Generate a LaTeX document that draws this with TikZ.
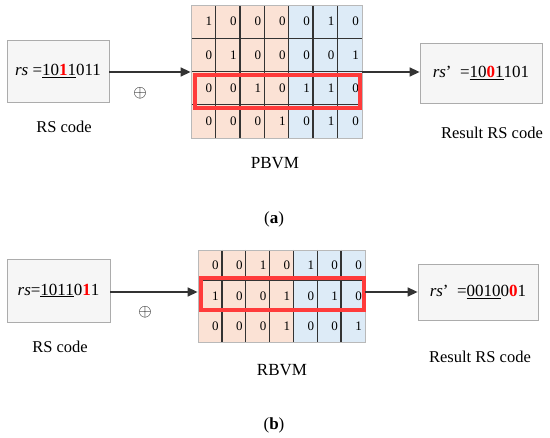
\documentclass[tikz,border=0pt]{standalone}
\usepackage{fontspec}
\setmainfont{Liberation Serif}
\usetikzlibrary{arrows.meta,shadows}
\definecolor{pinkc}{HTML}{FBE2D5}
\definecolor{bluec}{HTML}{DDEBF7}
\definecolor{redc}{HTML}{FF3B3B}
\definecolor{linec}{HTML}{333333}
\tikzset{
  codebox/.style={draw=gray!65, fill=gray!7, line width=0.8pt, inner sep=0pt,
    drop shadow={opacity=0.2, shadow xshift=1.2pt, shadow yshift=-1.2pt},
    font=\fontsize{17}{20}\selectfont},
  lbltxt/.style={font=\fontsize{16.5}{19}\selectfont, inner sep=0pt},
  captxt/.style={font=\fontsize{17}{20}\selectfont, inner sep=0pt},
  optxt/.style={font=\fontsize{17}{20}\selectfont, inner sep=0pt},
  celltxt/.style={font=\fontsize{13}{14}\selectfont, inner sep=0pt, anchor=east},
  matframe/.style={draw=gray!55, line width=0.8pt, inner sep=0pt,
    drop shadow={opacity=0.2, shadow xshift=1.2pt, shadow yshift=-1.2pt}},
  gridln/.style={draw=linec, line width=1.4pt},
  hlbox/.style={draw=redc, line width=3.4pt},
  conn/.style={draw=linec, line width=1.4pt, -{Triangle[length=10pt,width=9pt]}},
}
\newcommand{\rd}[1]{{\color{red}\bfseries #1}}
\begin{document}
\begin{tikzpicture}[x=1pt,y=-1pt]
\useasboundingbox (0,0) rectangle (550,438);

% ===================== (a) =====================
\node[codebox, minimum width=102pt, minimum height=62pt] (rsa) at (58,71)
  {\textit{rs} =\underline{10\rd{1}1}011};
\node[lbltxt] (rsal) at (64,127) {RS code};
\node[optxt] (opa) at (140,93) {$\oplus$};

% matrix a
\node[matframe, fill=white, minimum width=171pt, minimum height=133pt] (pm) at (276.5,71.5) {};
\fill[pinkc] (191,5) rectangle (288.7,138);
\fill[bluec] (288.7,5) rectangle (362,138);
\foreach \r in {1,2,3} \draw[gridln] (191,{5+\r*33.25}) -- (362,{5+\r*33.25});
\foreach \c in {1,...,6} \draw[gridln] ({191+\c*24.43},5) -- ({191+\c*24.43},138);
\draw[draw=gray!55, line width=0.8pt] (191,5) rectangle (362,138);
\foreach \row [count=\r] in {{1,0,0,0,0,1,0},{0,1,0,0,0,0,1},{0,0,1,0,1,1,0},{0,0,0,1,0,1,0}}{
  \foreach \v [count=\c] in \row {
    \node[celltxt] (a-\r-\c) at ({191+\c*24.43-3},{5+(\r-0.5)*33.25}) {\v};
  }
}
\node[hlbox, minimum width=165pt, minimum height=33pt, inner sep=0pt] (hla) at (277.5,91.5) {};
\node[captxt] (pml) at (275,163) {PBVM};

\node[codebox, minimum width=122pt, minimum height=60pt] (resa) at (481,73)
  {\textit{rs}’\ \ =\underline{10\rd{0}1}101};
\node[lbltxt] (resal) at (492,133) {Result RS code};

\draw[conn] (rsa.east |- 0,72) -- (pm.west |- 0,72);
\draw[conn] (pm.east |- 0,72) -- (resa.west |- 0,72);

\node[captxt] (capa) at (274,219) {(\textbf{a})};

% ===================== (b) =====================
\node[codebox, minimum width=103pt, minimum height=63pt] (rsb) at (58.5,290.5)
  {\textit{rs}=\underline{1011}0\rd{1}1};
\node[lbltxt] (rsbl) at (60,347) {RS code};
\node[optxt] (opb) at (145,312) {$\oplus$};

% matrix b
\node[matframe, fill=white, minimum width=167pt, minimum height=92pt] (rm) at (281.5,296) {};
\fill[pinkc] (198,250) rectangle (293.4,342);
\fill[bluec] (293.4,250) rectangle (365,342);
\foreach \r in {1,2} \draw[gridln] (198,{250+\r*30.67}) -- (365,{250+\r*30.67});
\foreach \c in {1,...,6} \draw[gridln] ({198+\c*23.86},250) -- ({198+\c*23.86},342);
\draw[draw=gray!55, line width=0.8pt] (198,250) rectangle (365,342);
\foreach \row [count=\r] in {{0,0,1,0,1,0,0},{1,0,0,1,0,1,0},{0,0,0,1,0,0,1}}{
  \foreach \v [count=\c] in \row {
    \node[celltxt] (b-\r-\c) at ({198+\c*23.86-3},{250+(\r-0.5)*30.67}) {\v};
  }
}
\node[hlbox, minimum width=163pt, minimum height=32pt, inner sep=0pt] (hlb) at (282.5,294) {};
\node[captxt] (rml) at (282,370) {RBVM};

\node[codebox, minimum width=120pt, minimum height=56pt] (resb) at (478,292)
  {\textit{rs}’\ \ =\underline{0010}0\rd{0}1};
\node[lbltxt] (resbl) at (480,357) {Result RS code};

\draw[conn] (rsb.east |- 0,292) -- (rm.west |- 0,292);
\draw[conn] (rm.east |- 0,292) -- (resb.west |- 0,292);

\node[captxt] (capb) at (274,425) {(\textbf{b})};
\end{tikzpicture}
\end{document}
